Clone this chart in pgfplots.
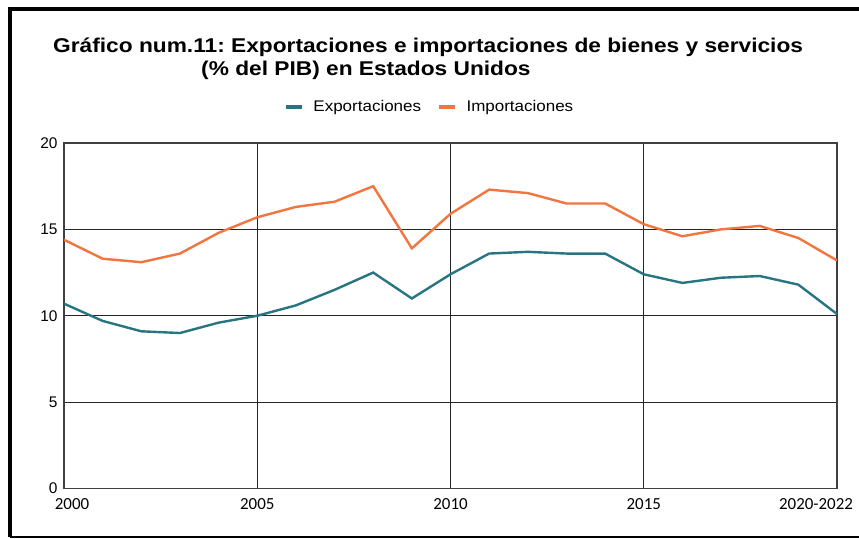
\documentclass[border=0pt]{standalone}
\usepackage{graphicx}
\usepackage{pgfplots}
\pgfplotsset{compat=1.18}
\usepackage{fontspec}
\setmainfont{Liberation Sans}
\newfontfamily\carlito{Carlito}
\definecolor{expcol}{RGB}{39,117,128}
\definecolor{impcol}{RGB}{242,117,63}
\newcommand{\wide}[2]{\scalebox{#1}[1]{#2}}
\frenchspacing

\begin{document}
\begin{tikzpicture}
\useasboundingbox (0bp,0bp) rectangle (859bp,539bp);
% outer frame
\draw[line width=3.5bp] (10bp,2bp) -- (10bp,530bp) -- (870bp,530bp);
\draw[line width=2bp] (10bp,2bp) -- (870bp,2bp);
% title
\node[anchor=base west, inner sep=0, font=\bfseries\fontsize{20}{21}\selectfont]
  at (53bp,486bp) {\wide{1.14}{Gráfico num.11: Exportaciones e importaciones de bienes y servicios}};
\node[anchor=base west, inner sep=0, font=\bfseries\fontsize{20}{21}\selectfont]
  at (201bp,463bp) {\wide{1.14}{(\% del PIB) en Estados Unidos}};

\begin{axis}[
    at={(64bp,50.5bp)}, anchor=south west,
    scale only axis,
    width=773bp, height=345.5bp,
    xmin=2000, xmax=2020,
    ymin=0, ymax=20,
    xtick={2000,2005,2010,2015,2020},
    xticklabels={\hspace*{16bp}2000,2005,2010,2015,2020-2022\hspace*{42bp}},
    ytick={0,5,10,15,20},
    /pgf/number format/assume math mode=true,
    grid=major,
    major grid style={black!85, line width=1bp},
    axis line style={black!75, line width=1.3bp},
    major tick length=0pt,
    xticklabel style={font=\carlito\fontsize{17}{17}\selectfont, anchor=north, yshift=-6bp},
    yticklabel style={font=\fontsize{15.5}{16}\selectfont, xshift=-3bp},
    legend columns=2,
    legend style={at={(0.473,1.104)}, anchor=center, draw=none, fill=none,
        font=\fontsize{15.5}{16}\selectfont,
        /tikz/every even column/.append style={column sep=14bp}},
    legend image code/.code={\draw[#1, line width=4.5bp] (0bp,0bp) -- (16bp,0bp);
        \path (24bp,0bp);},
]
\addplot[expcol, line width=2.4bp] coordinates {
    (2000,10.7) (2001,9.7) (2002,9.1) (2003,9.0) (2004,9.6) (2005,10.0)
    (2006,10.6) (2007,11.5) (2008,12.5) (2009,11.0) (2010,12.4)
    (2011,13.6) (2012,13.7) (2013,13.6) (2014,13.6) (2015,12.4)
    (2016,11.9) (2017,12.2) (2018,12.3) (2019,11.8) (2020,10.1)
};
\addplot[impcol, line width=2.4bp] coordinates {
    (2000,14.4) (2001,13.3) (2002,13.1) (2003,13.6) (2004,14.8) (2005,15.7)
    (2006,16.3) (2007,16.6) (2008,17.5) (2009,13.9) (2010,15.9)
    (2011,17.3) (2012,17.1) (2013,16.5) (2014,16.5) (2015,15.3)
    (2016,14.6) (2017,15.0) (2018,15.2) (2019,14.5) (2020,13.2)
};
\legend{\wide{1.1}{Exportaciones}, \wide{1.1}{Importaciones}}
\end{axis}
\end{tikzpicture}
\end{document}
